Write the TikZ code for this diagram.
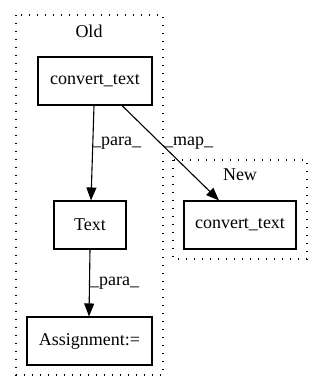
\documentclass[tikz,border=0pt]{standalone}
\usepackage{fontspec}
\setmainfont{Liberation Serif}
\usetikzlibrary{arrows.meta}
\begin{document}
\begin{tikzpicture}[x=1pt,y=-1pt,
  box/.style={draw,line width=1.1pt,minimum height=48pt,inner sep=0pt,font=\fontsize{18}{20}\selectfont},
  cluster/.style={draw,line width=1.3pt,dash pattern=on 1.3pt off 6.7pt},
  flow/.style={draw,line width=1.1pt,-{Triangle[length=13pt,width=10pt]}},
  lbl/.style={font=\fontsize{18}{20}\selectfont,inner sep=1pt}]
  \useasboundingbox (0,0) rectangle (323,392);
  % clusters
  \draw[cluster] (16,15) rectangle (163,375);
  \node[lbl] (oldlbl) at (89,31) {Old};
  \draw[cluster] (173,160) rectangle (307,259);
  \node[lbl] (newlbl) at (240,175) {New};
  % nodes
  \node[box,minimum width=114pt] (ct) at (95,81) {convert\_text};
  \node[box,minimum width=72pt] (tx) at (90,225) {Text};
  \node[box,minimum width=125pt] (as) at (89.5,341) {Assignment:=};
  \node[box,minimum width=112pt] (nc) at (240,225) {convert\_text};
  % edges
  \draw[flow] (ct.south -| 94,0) -- (tx.north -| 91,0);
  \node[lbl,anchor=west] (l1) at (91,143) {\_para\_};
  \draw[flow] (ct.south -| 122,0) -- (nc.north -| 219,0);
  \node[lbl,anchor=west] (l2) at (163,143) {\_map\_};
  \draw[flow] (tx.south -| 90,0) -- (as.north -| 89,0);
  \node[lbl,anchor=west] (l3) at (89,283) {\_para\_};
\end{tikzpicture}
\end{document}
